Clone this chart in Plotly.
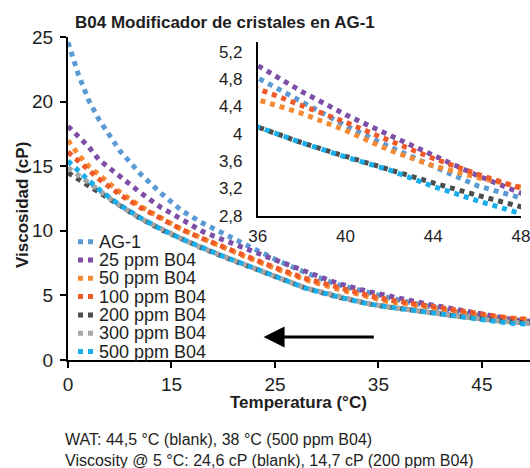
import plotly.graph_objects as go

# ---------------- data ----------------
temperature = [5, 6, 7, 8, 10, 12, 14, 16, 18, 20, 22, 25, 28, 31, 34, 36, 38, 40, 42, 44, 46, 48, 50]

ag1      = [24.6, 22.1, 20.1, 18.6, 16.2, 14.4, 12.9, 11.55, 10.6, 9.75, 9.0, 7.8, 6.75, 5.85, 5.2, 4.82, 4.47, 4.12, 3.81, 3.52, 3.24, 3.06, 2.95]
ppm25    = [18.1, 17.3, 16.5, 15.5, 14.2, 12.95, 11.8, 10.85, 9.95, 9.3, 8.65, 7.75, 6.85, 5.95, 5.3, 5.0, 4.62, 4.28, 3.98, 3.68, 3.39, 3.13, 2.98]
ppm50    = [17.0, 15.9, 15.0, 14.3, 13.0, 11.9, 11.0, 10.1, 9.4, 8.7, 8.05, 7.1, 6.2, 5.5, 4.85, 4.5, 4.3, 4.05, 3.76, 3.53, 3.36, 3.22, 3.12]
ppm100   = [16.1, 15.4, 14.7, 14.0, 12.8, 11.8, 10.95, 10.1, 9.4, 8.75, 8.1, 7.15, 6.3, 5.6, 5.0, 4.66, 4.42, 4.17, 3.90, 3.64, 3.41, 3.20, 3.10]
ppm200   = [14.5, 14.0, 13.5, 13.0, 11.9, 10.95, 10.1, 9.35, 8.65, 8.0, 7.4, 6.45, 5.55, 4.9, 4.35, 4.1, 3.87, 3.67, 3.47, 3.28, 3.10, 2.93, 2.85]
ppm300   = [14.9, 14.3, 13.7, 13.1, 11.95, 10.97, 10.12, 9.37, 8.67, 8.02, 7.42, 6.47, 5.57, 4.92, 4.37, 4.1, 3.87, 3.67, 3.47, 3.26, 3.06, 2.88, 2.8]
ppm500   = [15.4, 14.6, 13.9, 13.2, 12.0, 11.0, 10.12, 9.37, 8.67, 8.02, 7.42, 6.45, 5.55, 4.9, 4.35, 4.1, 3.87, 3.66, 3.47, 3.23, 3.02, 2.83, 2.75]

series_names  = ["AG-1", "25 ppm B04", "50 ppm B04", "100 ppm B04", "200 ppm B04", "300 ppm B04", "500 ppm B04"]
series_values = [ag1, ppm25, ppm50, ppm100, ppm200, ppm300, ppm500]
series_colors = ["#5B9BD5", "#7E4FA6", "#F58A33", "#F05A28", "#4D4D4D", "#A6A6A6", "#17AEEB"]
inset_series  = [True, True, True, True, True, False, True]

main_tickvals = [5, 15, 25, 35, 45]
main_ticktext = ["0", "15", "25", "35", "45"]
inset_xticks = [36, 40, 44, 48]
inset_yticks = [2.8, 3.2, 3.6, 4.0, 4.4, 4.8, 5.2]

title_text = "<b>B04 Modificador de cristales en AG-1</b>"
xtitle = "<b>Temperatura (°C)</b>"
ytitle = "<b>Viscosidad (cP)</b>"
note1 = "WAT: 44,5 °C (blank), 38 °C (500 ppm B04)"
note2 = "Viscosity @ 5 °C: 24,6 cP (blank), 14,7 cP (200 ppm B04)"

# ---------------- layout geometry ----------------
W, H = 530, 468
ML, MR, MT, MB = 68, 0, 37, 108
PW, PH = W - ML - MR, H - MT - MB

def px(x):
    return (x - ML) / PW

def py(y):
    return (H - MB - y) / PH

FONT = "Liberation Sans, Arial, sans-serif"
TXT = "#1e1e1e"

fig = go.Figure()

for name, vals, col in zip(series_names, series_values, series_colors):
    fig.add_trace(go.Scatter(x=temperature, y=vals, mode="lines", name=name,
                             line=dict(color=col, width=5, dash="dot"),
                             showlegend=False, xaxis="x", yaxis="y"))
for name, vals, col, ins in zip(series_names, series_values, series_colors, inset_series):
    if ins:
        fig.add_trace(go.Scatter(x=temperature, y=vals, mode="lines", name=name,
                                 line=dict(color=col, width=5, dash="dot"),
                                 showlegend=False, xaxis="x2", yaxis="y2"))

axis_common = dict(showgrid=False, zeroline=False, showline=True, linecolor="black",
                   color=TXT, automargin=False)

annotations = [
    dict(text=title_text, x=px(73), y=py(22.5), xref="paper", yref="paper",
         xanchor="left", yanchor="middle", showarrow=False, font=dict(size=17, color=TXT)),
    dict(text=xtitle, x=px(298), y=py(402), xref="paper", yref="paper",
         xanchor="center", yanchor="middle", showarrow=False, font=dict(size=17, color=TXT)),
    dict(text=ytitle, x=px(22), y=py(205), xref="paper", yref="paper", textangle=-90,
         xanchor="center", yanchor="middle", showarrow=False, font=dict(size=17, color=TXT)),
    dict(text=note1, x=px(63), y=py(439.5), xref="paper", yref="paper",
         xanchor="left", yanchor="middle", showarrow=False, font=dict(size=16, color=TXT)),
    dict(text=note2, x=px(63), y=py(460), xref="paper", yref="paper",
         xanchor="left", yanchor="middle", showarrow=False, font=dict(size=16, color=TXT)),
    dict(x=23.9, y=1.78, ax=34.7, ay=1.78, xref="x", yref="y", axref="x", ayref="y",
         text="", showarrow=True, arrowhead=2, arrowsize=1.4, arrowwidth=3, arrowcolor="black"),
]

shapes = []
for i, (name, col) in enumerate(zip(series_names, series_colors)):
    yy = 241.7 + i * 18.3
    annotations.append(dict(text=name, x=px(97), y=py(yy), xref="paper", yref="paper",
                            xanchor="left", yanchor="middle", showarrow=False,
                            font=dict(size=18, color=TXT)))
    shapes.append(dict(type="line", xref="paper", yref="paper",
                       x0=px(78), x1=px(93), y0=py(yy), y1=py(yy),
                       line=dict(color=col, width=5, dash="dot")))

fig.update_layout(
    width=W, height=H,
    margin=dict(l=ML, r=MR, t=MT, b=MB, autoexpand=False),
    paper_bgcolor="white", plot_bgcolor="rgba(0,0,0,0)",
    font=dict(family=FONT, color=TXT),
    separators=",.",
    showlegend=False,
    xaxis=dict(range=[5, 49.65], tickvals=main_tickvals, ticktext=main_ticktext,
               ticks="outside", ticklen=6, tickwidth=2, tickcolor="black", linewidth=2,
               tickfont=dict(size=19), domain=[0, 1], anchor="y", **axis_common),
    yaxis=dict(range=[0, 25], tickvals=[0, 5, 10, 15, 20, 25],
               ticks="outside", ticklen=6, tickwidth=2, tickcolor="black", linewidth=2,
               tickfont=dict(size=19), domain=[0, 1], anchor="x", ticklabelstandoff=3,
               **axis_common),
    xaxis2=dict(range=[36, 48], tickvals=inset_xticks, ticks="", linewidth=1.5,
                tickfont=dict(size=17), domain=[px(257.7), px(521)], anchor="y2",
                ticklabelstandoff=4, ticklabeloverflow="allow", **axis_common),
    yaxis2=dict(range=[2.8, 5.34], tickvals=inset_yticks, ticks="", linewidth=1.5,
                tickfont=dict(size=17), domain=[py(215.7), py(42.3)], anchor="x2",
                ticklabelstandoff=10, **axis_common),
    annotations=annotations,
    shapes=shapes,
)

fig.write_html("out.html")
